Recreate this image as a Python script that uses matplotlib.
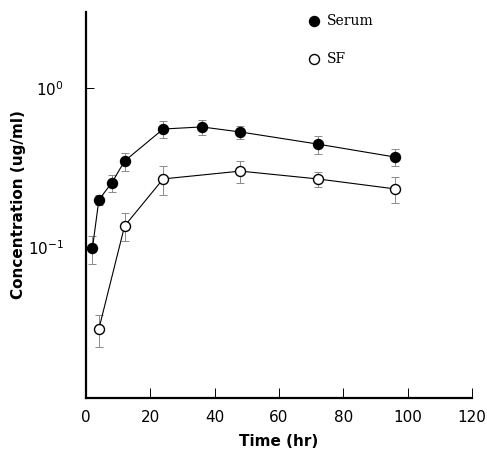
import numpy as np
import matplotlib
matplotlib.use("Agg")
import matplotlib.pyplot as plt

# sampling times (hr)
serum_t = [2, 4, 8, 12, 24, 36, 48, 72, 96]
serum_c = [0.098, 0.198, 0.253, 0.347, 0.552, 0.569, 0.529, 0.444, 0.368]
serum_sd = [0.020, 0.015, 0.030, 0.045, 0.065, 0.060, 0.050, 0.058, 0.044]

sf_t = [4, 12, 24, 48, 72, 96]
sf_c = [0.0305, 0.1355, 0.268, 0.300, 0.268, 0.232]
sf_sd = [0.007, 0.027, 0.055, 0.047, 0.028, 0.042]

fig = plt.figure(figsize=(4.87, 4.55), dpi=100)
ax = fig.add_axes([0.1766, 0.1253, 0.7924, 0.8483])

ax.errorbar(serum_t, serum_c, yerr=serum_sd, fmt='none', ecolor='#8a8a8a',
            elinewidth=0.7, capsize=3, capthick=0.7, zorder=1)
ax.errorbar(sf_t, sf_c, yerr=sf_sd, fmt='none', ecolor='#8a8a8a',
            elinewidth=0.7, capsize=3, capthick=0.7, zorder=1)
ax.plot(serum_t, serum_c, '-o', color='black', lw=0.8, ms=7.2,
        mfc='black', mec='black', zorder=3)
ax.plot(sf_t, sf_c, '-o', color='black', lw=0.8, ms=7.2,
        mfc='white', mec='black', mew=1.0, zorder=3)

ax.set_yscale('log')
ax.set_xlim(0, 120)
ax.set_ylim(10**-1.95, 10**0.478)
ax.set_xticks([0, 20, 40, 60, 80, 100, 120])
ax.set_yticks([0.1, 1])
ax.yaxis.set_minor_locator(matplotlib.ticker.NullLocator())

for s in ['top', 'right']:
    ax.spines[s].set_visible(False)
for s in ['left', 'bottom']:
    ax.spines[s].set_linewidth(1.6)

ax.tick_params(axis='x', direction='in', length=7, width=0.7, pad=9,
               labelsize=11)
ax.tick_params(axis='y', direction='in', length=6, width=0.7, pad=16,
               labelsize=11)

ax.set_xlabel('Time (hr)', fontweight='bold', fontsize=11, labelpad=6)
ax.set_ylabel('Concentration (ug/ml)', fontweight='bold', fontsize=11,
              labelpad=1)

# legend drawn by hand like the original
ax.plot([71], [10**0.42], 'o', color='black', ms=7.2, clip_on=False)
ax.text(75, 10**0.42, 'Serum', family='DejaVu Serif', fontsize=10,
        va='center')
ax.plot([71], [10**0.18], 'o', color='black', mfc='white', ms=7.2,
        clip_on=False)
ax.text(75, 10**0.18, 'SF', family='DejaVu Serif', fontsize=10, va='center')

fig.savefig('out.png', dpi=100)
